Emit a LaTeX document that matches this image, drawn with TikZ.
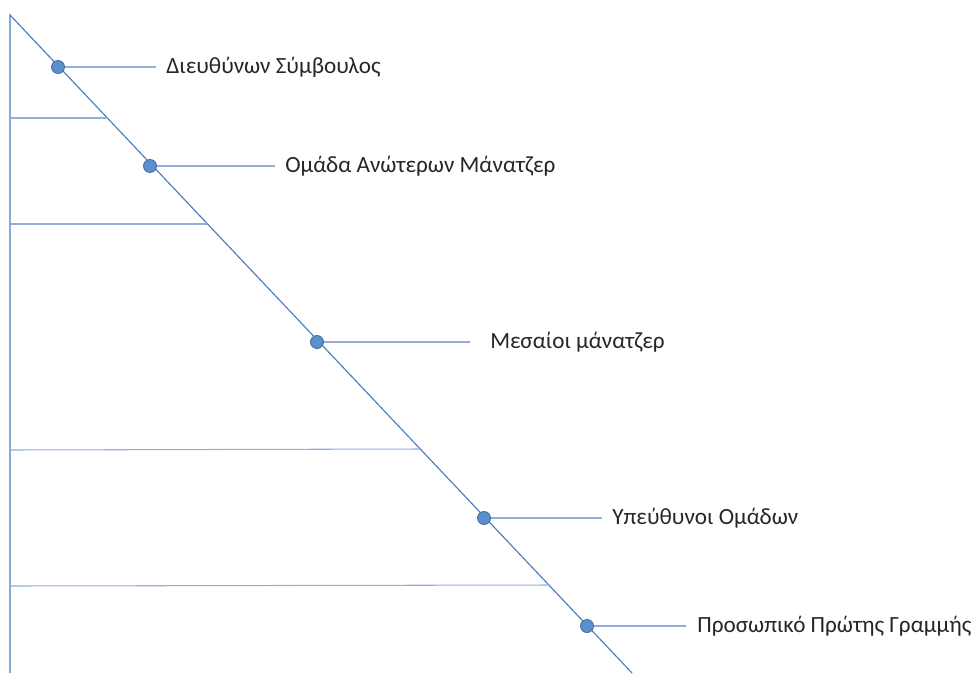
\documentclass[tikz,border=0pt]{standalone}
\usepackage{fontspec}
\setmainfont{Carlito}
\definecolor{axisblue}{HTML}{4A7EBB}
\definecolor{tickblue}{HTML}{8EB0DB}
\definecolor{dotblue}{HTML}{5B8FD0}
\definecolor{dotedge}{HTML}{41719C}
\begin{document}
\begin{tikzpicture}[x=0.02cm, y=-0.02cm]
    \tikzstyle{axis} = [draw = axisblue, line width = 0.65pt]
    \tikzstyle{level} = [draw = tickblue, line width = 0.6pt]
    \tikzstyle{leader} = [draw = tickblue, line width = 0.6pt]
    \tikzstyle{dot} = [circle, fill = dotblue, draw = dotedge, line width = 0.5pt, inner sep = 0pt, minimum size = 0.26cm]
    \tikzstyle{label} = [anchor = west, inner sep = 0pt, font = \fontsize{13.2}{16}\selectfont, text = black!85]
    \useasboundingbox (0,0) rectangle (973,673);

    % axis corner, diagonal runs down to the bottom edge
    \coordinate (top) at (10,15);
    \coordinate (bottom) at (10,673);
    \coordinate (end) at (632,673);
    \draw[axis] (bottom)--(top)--(end);

    % band boundaries between the levels
    \coordinate (B1a) at (10,118); \coordinate (B1b) at (106,118);
    \coordinate (B2a) at (10,224); \coordinate (B2b) at (207,224);
    \coordinate (B3a) at (10,450); \coordinate (B3b) at (420,449);
    \coordinate (B4a) at (10,586); \coordinate (B4b) at (550,585);
    \draw[level] (B1a)--(B1b);
    \draw[level] (B2a)--(B2b);
    \draw[level] (B3a)--(B3b);
    \draw[level] (B4a)--(B4b);

    % leader ends
    \coordinate (E1) at (156,67);
    \coordinate (E2) at (275,166);
    \coordinate (E3) at (470,342);
    \coordinate (E4) at (602,518);
    \coordinate (E5) at (686,626);

    \node[dot](D1) at (58,67){};
    \node[dot](D2) at (150,166){};
    \node[dot](D3) at (317,342){};
    \node[dot](D4) at (484,518){};
    \node[dot](D5) at (587,626){};

    \draw[leader] (D1)--(E1);
    \draw[leader] (D2)--(E2);
    \draw[leader] (D3)--(E3);
    \draw[leader] (D4)--(E4);
    \draw[leader] (D5)--(E5);

    \node[label](L1) at (166,67){Διευθύνων Σύμβουλος};
    \node[label](L2) at (285,166){Ομάδα Ανώτερων Μάνατζερ};
    \node[label](L3) at (490,342){Μεσαίοι μάνατζερ};
    \node[label](L4) at (612,518){Υπεύθυνοι Ομάδων};
    \node[label](L5) at (697,626){Προσωπικό Πρώτης Γραμμής};
\end{tikzpicture}
\end{document}
